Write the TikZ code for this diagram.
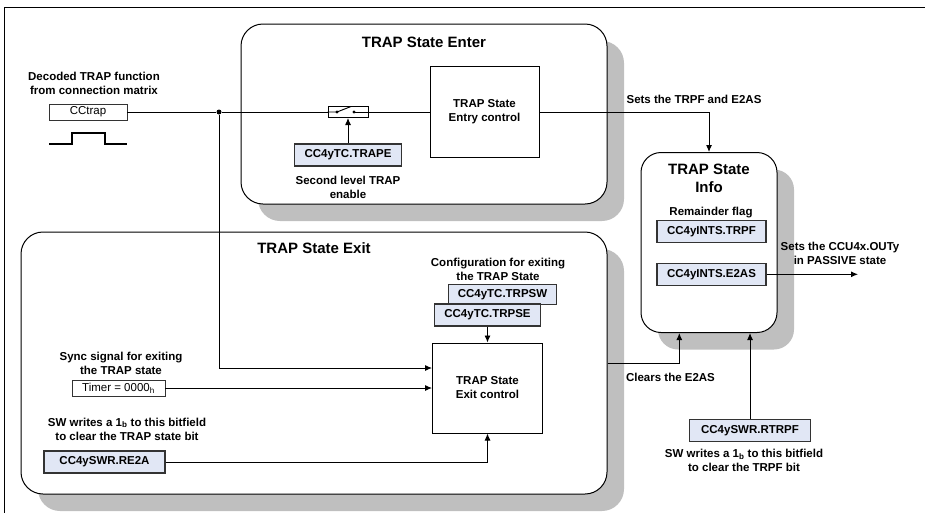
\documentclass[tikz,border=0pt]{standalone}
\usepackage{fontspec}
\setmainfont{Liberation Sans}
\usetikzlibrary{arrows.meta,shadows}
\definecolor{regblue}{RGB}{225,231,245}
\definecolor{shadegray}{RGB}{191,191,191}

\begin{document}
\begin{tikzpicture}[
  x=1pt, y=-1pt,
  font=\fontsize{11.5}{14}\selectfont\bfseries,
  area/.style={draw=black, line width=1pt, fill=white, rounded corners=22pt,
               inner sep=0pt, drop shadow={shadow xshift=17pt, shadow yshift=-17pt,
               fill=shadegray, opacity=1}},
  ttl/.style={font=\fontsize{15}{18.5}\selectfont\bfseries, align=center, inner sep=0pt},
  lbl/.style={align=center, inner sep=0pt},
  ctl/.style={draw=black, line width=1pt, fill=white, align=center, inner sep=0pt},
  reg/.style={draw=black!80, line width=1.1pt, fill=regblue, inner sep=0pt, minimum height=22pt},
  txtbox/.style={draw=black!80, line width=0.9pt, fill=white, inner sep=0pt,
                 minimum height=16pt, font=\fontsize{11.5}{14}\selectfont\mdseries},
  wire/.style={draw=black, line width=0.95pt},
  arr/.style={wire, -{Latex[length=7pt,width=6pt]}},
  jdot/.style={circle, fill=black, inner sep=0pt, minimum size=5pt}
]
\useasboundingbox (0,0) rectangle (925,512);

% outer frame
\draw[line width=1pt] (4,530) -- (4,7) -- (940,7);

% regions
\node[area, minimum width=366pt, minimum height=180pt] (enter) at (424,114) {};
\node[area, minimum width=586pt, minimum height=262pt] (exit) at (314,363) {};
\node[area, rounded corners=20pt, minimum width=136pt, minimum height=180pt] (info) at (709,242.5) {};

\node[ttl] (entertitle) at (424,42) {TRAP State Enter};
\node[ttl] (exittitle) at (314,248) {TRAP State Exit};
\node[ttl] (infotitle) at (709,178.5) {TRAP State\\Info};

% trap input
\node[lbl] (decoded) at (94,83) {Decoded TRAP function\\from connection matrix};
\node[txtbox, minimum width=78pt] (cctrap) at (88,112) {CCtrap};
\draw[line width=1.2pt] (49,144) -- (72,144) -- (72,133) -- (105,133) -- (105,144) -- (127,144);
\node[jdot] (junc) at (219,112) {};

% entry part
\node[ctl, minimum width=40pt, minimum height=11pt] (switch) at (348,112) {};
\draw[wire] (switch.west) -- (337,112) -- (351,106.5);
\draw[wire] (354,112) -- (switch.east);
\fill (337,112) circle (1.7pt) (354,112) circle (1.7pt);
\node[ctl, minimum width=109pt, minimum height=91pt] (entryctl) at (484.5,112) {TRAP State\\Entry control};
\node[reg, minimum width=107pt] (trape) at (348,155) {CC4yTC.TRAPE};
\node[lbl] (trapenote) at (348,187) {Second level TRAP\\enable};

% exit part
\node[lbl] (syncnote) at (121,363) {Sync signal for exiting\\the TRAP state};
\node[txtbox, minimum width=93pt] (timer) at (118.5,388) {Timer = 0000\textsubscript{h}};
\node[lbl] (re2anote) at (127,429) {SW writes a 1\textsubscript{b} to this bitfield\\to clear the TRAP state bit};
\node[reg, minimum width=121pt] (re2a) at (104.5,462) {CC4ySWR.RE2A};
\node[lbl] (cfgnote) at (498,269) {Configuration for exiting\\the TRAP State};
\node[reg, minimum width=108pt, minimum height=20pt] (trpsw) at (502.5,294.3) {CC4yTC.TRPSW};
\node[reg, minimum width=106pt] (trpse) at (487.5,315) {CC4yTC.TRPSE};
\node[ctl, minimum width=110pt, minimum height=90pt] (exitctl) at (487.5,388) {TRAP State\\Exit control};

% info part
\node[lbl] (flagnote) at (711,213) {Remainder flag};
\node[reg, minimum width=109pt] (trpf) at (711.5,231.7) {CC4yINTS.TRPF};
\node[reg, minimum width=109pt] (e2as) at (711.5,274.3) {CC4yINTS.E2AS};
\coordinate (outy) at (858,274.3);
\node[lbl] (outynote) at (840,253) {Sets the CCU4x.OUTy\\in PASSIVE state};
\node[lbl] (setsnote) at (694,99) {Sets the TRPF and E2AS};
\node[lbl] (clearsnote) at (670.5,377) {Clears the E2AS};
\node[reg, minimum width=121pt] (rtrpf) at (750,430.7) {CC4ySWR.RTRPF};
\node[lbl] (rtrpfnote) at (744,460.5) {SW writes a 1\textsubscript{b} to this bitfield\\to clear the TRPF bit};

% connections
\draw[wire] (cctrap) -- (junc) -- (switch);
\draw[wire] (switch) -- (entryctl);
\draw[arr] (trape) -- (switch);
\draw[arr] (junc) |- ([yshift=20pt]exitctl.west);
\draw[arr] (timer) -- (exitctl);
\draw[arr] (re2a) -| (exitctl);
\draw[arr] (trpse) -- (exitctl);
\draw[arr] (entryctl) -| (info);
\draw[arr] (exit.east) -| ([xshift=-29.7pt]info.south);
\draw[arr] (rtrpf) -- (rtrpf |- info.south);
\draw[arr] (e2as) -- (outy);

\end{tikzpicture}
\end{document}
